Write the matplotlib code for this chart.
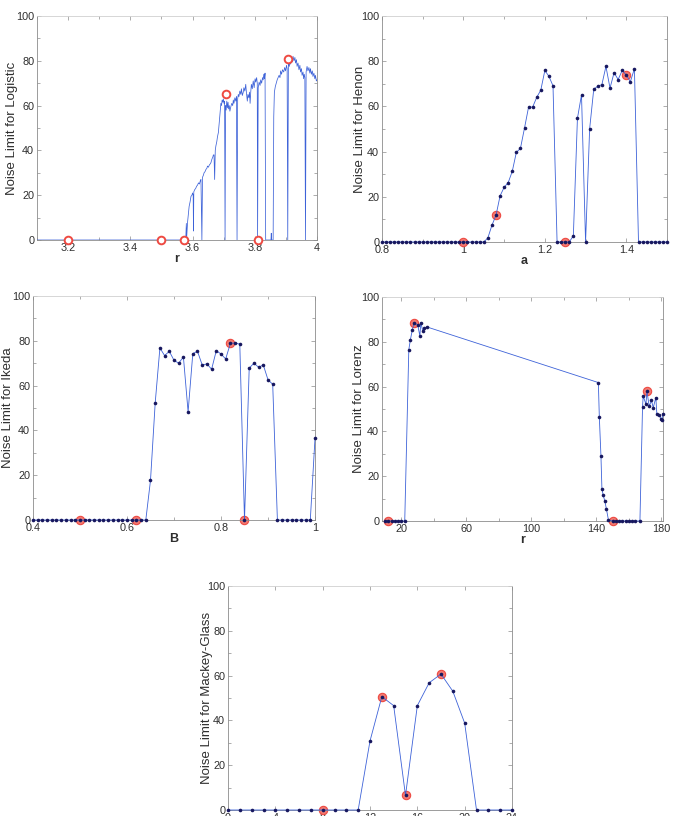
import matplotlib.pyplot as plt
import numpy as np

plt.rcParams["font.family"] = ["Liberation Sans", "DejaVu Sans"]

line_color = "#3d62d8"
dot_color = "#17175f"
red = "#ee4a42"
spine_color = "#8c8c8c"
fig_w, fig_h = 674, 816

# Logistic map: (r, noise limit)
logistic_points = [
    (3.100, 0), (3.578, 0), (3.580, 7.4), (3.581, 1), (3.584, 8), (3.587, 12),
    (3.589, 15), (3.592, 17), (3.595, 19.5), (3.598, 20), (3.600, 21), (3.602, 20),
    (3.603, 4), (3.604, 21.5), (3.607, 22.5), (3.610, 23), (3.613, 24), (3.616, 24.5),
    (3.619, 25.5), (3.622, 25), (3.625, 26.5), (3.627, 27), (3.630, 0), (3.632, 28),
    (3.635, 29), (3.637, 30), (3.640, 30.5), (3.643, 31.5), (3.646, 32), (3.648, 33),
    (3.651, 32.5), (3.654, 33.5), (3.657, 34), (3.659, 34.5), (3.662, 36), (3.665, 37),
    (3.667, 38), (3.669, 38), (3.671, 27), (3.673, 40), (3.675, 42), (3.678, 44),
    (3.680, 46), (3.683, 48), (3.685, 51), (3.688, 56), (3.691, 61), (3.693, 60),
    (3.695, 62.5), (3.697, 61.5), (3.699, 63), (3.701, 61), (3.703, 62), (3.7045, 0),
    (3.706, 60), (3.708, 58), (3.710, 62), (3.712, 59), (3.714, 61.5), (3.716, 58.5),
    (3.718, 60), (3.720, 57.5), (3.723, 59.5), (3.726, 61), (3.729, 60), (3.731, 62.5),
    (3.733, 61), (3.736, 63.5), (3.739, 62), (3.741, 64), (3.743, 0), (3.745, 63),
    (3.747, 65), (3.749, 64), (3.752, 66.5), (3.755, 65), (3.757, 67.5), (3.760, 64.5),
    (3.763, 66), (3.765, 68), (3.768, 66.5), (3.771, 69.5), (3.773, 66), (3.776, 62),
    (3.778, 65), (3.781, 63.5), (3.783, 66), (3.785, 61), (3.787, 66), (3.789, 69.5),
    (3.792, 67.5), (3.795, 71), (3.798, 68), (3.801, 72), (3.803, 70.5), (3.806, 72.5),
    (3.808, 70), (3.809, 0), (3.811, 68), (3.814, 70.5), (3.817, 69), (3.819, 71.5),
    (3.822, 70), (3.825, 72.5), (3.827, 71.5), (3.829, 74), (3.831, 72), (3.833, 74.5),
    (3.835, 0), (3.852, 0), (3.853, 3), (3.854, 0), (3.859, 0), (3.861, 55),
    (3.863, 66), (3.866, 68.5), (3.869, 70), (3.872, 71.5), (3.875, 72.5), (3.878, 73.5),
    (3.881, 72.5), (3.883, 75.5), (3.886, 74), (3.889, 76), (3.893, 75), (3.896, 77),
    (3.899, 75.5), (3.902, 78), (3.904, 76.5), (3.906, 0), (3.908, 79), (3.911, 77.5),
    (3.913, 80), (3.915, 78.5), (3.918, 81), (3.921, 79.5), (3.923, 82), (3.926, 80),
    (3.929, 81.5), (3.931, 79), (3.934, 80.5), (3.936, 77.5), (3.939, 79), (3.942, 76),
    (3.945, 78), (3.947, 75), (3.950, 76.5), (3.952, 73.5), (3.955, 75), (3.957, 72),
    (3.959, 74), (3.961, 72.5), (3.963, 0), (3.965, 75), (3.968, 77.5), (3.971, 75.5),
    (3.974, 77), (3.977, 74.5), (3.979, 76.5), (3.982, 74), (3.985, 75.5), (3.987, 73),
    (3.990, 74.5), (3.993, 72), (3.995, 73.5), (3.998, 71), (4.000, 71.5),
]
logistic_red_r = [3.2, 3.5, 3.571, 3.707, 3.810, 3.906]
logistic_red_v = [0, 0, 0, 65.4, 0, 80.7]

# Henon map, a = 0.80 ... 1.50
henon_a = np.round(np.arange(0.80, 1.505, 0.01), 2)
henon_v = ([0] * 26
           + [1.8, 7.4, 11.8, 20.4, 24.2, 26.3, 31.3, 39.7, 41.4, 50.4, 59.7, 59.7,
              64.0, 67.2, 75.9, 73.3, 69.1]
           + [0] * 4
           + [2.8, 54.7, 65.1, 0, 50.1, 67.5, 69.0, 69.6, 77.7, 68.1, 74.9, 71.9,
              75.9, 73.9, 70.9, 76.7]
           + [0] * 8)
henon_red_a = [1.0, 1.08, 1.25, 1.40]
henon_red_v = [0, 11.8, 0, 73.9]

# Ikeda map, B = 0.40 ... 1.00
ikeda_b = np.round(np.arange(0.40, 1.005, 0.01), 2)
ikeda_v = ([0] * 25
           + [17.7, 52.3, 76.8, 73.4, 75.3, 71.3, 70.0, 72.8, 48.3, 74.3, 75.3, 69.2,
              69.7, 67.3, 75.6, 74.1, 71.9, 78.9, 79.0, 78.5, 0, 67.8, 70.0, 68.2,
              69.2, 62.6, 60.6]
           + [0] * 8
           + [36.4])
ikeda_red_b = [0.50, 0.62, 0.82, 0.85]
ikeda_red_v = [0, 0, 78.9, 0]

# Lorenz system
lorenz_r = [10, 12, 14, 16, 18, 20, 22, 24.5, 25.5, 26.6, 27.8, 30, 31.3, 31.9, 33.1,
            34.1, 35.8, 141.2, 141.8, 142.8, 143.4, 144.2, 145.2, 146.2, 147.4, 150,
            152, 154, 156, 158, 160, 162, 164, 166.8, 168.4, 168.8, 170.5, 171.1,
            172.5, 173.9, 175.0, 176.6, 177.2, 178.7, 179.7, 180.3, 181]
lorenz_v = [0, 0, 0, 0, 0, 0, 0, 76.5, 81, 85.1, 88.6, 87.5, 82.6, 88.6, 84.8,
            86.2, 86.6, 61.8, 46.4, 29.0, 14.2, 11.5, 8.8, 5.2, 0.5, 0,
            0, 0, 0, 0, 0, 0, 0, 0, 50.9, 55.8, 52.1, 57.9,
            51.2, 53.8, 50.6, 55.1, 47.9, 47.2, 45.7, 45.1, 47.9]
lorenz_red_r = [12, 27.8, 150, 171.1]
lorenz_red_v = [0, 88.6, 0, 57.9]

# Mackey-Glass (x tick labels fall outside the picture)
mackey_x = np.arange(25)
mackey_v = [0] * 12 + [30.8, 50.6, 46.6, 6.5, 46.6, 56.8, 60.7, 53.0, 38.8] + [0] * 4
mackey_red_x = [8, 13, 15, 18]
mackey_red_v = [0, 50.6, 6.5, 60.7]


def add_axes_px(left, top, right, bottom):
    return fig.add_axes([left / fig_w, 1 - bottom / fig_h,
                         (right - left) / fig_w, (bottom - top) / fig_h])


def style_axes(ax, xlim, xticks, xminor, xlabel, ylabel, label_off):
    ax.set_xlim(*xlim)
    ax.set_ylim(0, 100)
    ax.set_xticks(xticks, ["%g" % t for t in xticks])
    ax.set_xticks(xminor, minor=True)
    ax.set_yticks(range(0, 101, 20))
    ax.set_yticks(range(10, 100, 20), minor=True)
    ax.tick_params(which="both", direction="in", top=True, right=True,
                   color=spine_color, width=0.5, labelsize=7.8,
                   labelcolor="#2e2e2e", pad=2)
    ax.tick_params(which="major", length=3)
    ax.tick_params(which="minor", length=2.5)
    for side, sp in ax.spines.items():
        sp.set_linewidth(0.6)
        sp.set_color("#d0d0d0" if side == "top" else spine_color)
    ax.set_xlabel(xlabel, fontsize=9, fontweight="bold", color="#2e2e2e", labelpad=0)
    ax.set_ylabel(ylabel, fontsize=9.5, color="#2e2e2e", va="center")
    width_px = ax.get_position().width * fig_w
    ax.yaxis.set_label_coords(-label_off / width_px, 0.5)


def dotted_series(ax, x, y, rx, ry):
    ax.plot(rx, ry, "o", ms=6, mfc="#f27a72", mec=red, mew=0.8, clip_on=False, zorder=2)
    ax.plot(x, y, "-", color=line_color, lw=0.6, zorder=3, clip_on=False)
    ax.plot(x, y, "o", ms=2.6, color=dot_color, mew=0, zorder=4, clip_on=False)


fig = plt.figure(figsize=(fig_w / 100, fig_h / 100), dpi=100)

ax1 = add_axes_px(37, 16, 317, 240)
lr, lv = np.array(logistic_points).T
ax1.plot(lr, lv, "-", color=line_color, lw=0.55, zorder=3)
ax1.plot(logistic_red_r, logistic_red_v, "o", ms=5.5, mfc="white", mec=red, mew=1.4,
         clip_on=False, zorder=4)
style_axes(ax1, (3.1, 4.0), [3.2, 3.4, 3.6, 3.8, 4.0], [3.1, 3.3, 3.5, 3.7, 3.9],
           "r", "Noise Limit for Logistic", 25)

ax2 = add_axes_px(382, 16, 667, 242)
dotted_series(ax2, henon_a, henon_v, henon_red_a, henon_red_v)
style_axes(ax2, (0.8, 1.5), [0.8, 1.0, 1.2, 1.4], [0.9, 1.1, 1.3, 1.5],
           "a", "Noise Limit for Henon", 22)

ax3 = add_axes_px(33, 296, 315, 520)
dotted_series(ax3, ikeda_b, ikeda_v, ikeda_red_b, ikeda_red_v)
style_axes(ax3, (0.4, 1.0), [0.4, 0.6, 0.8, 1.0], [0.5, 0.7, 0.9],
           "B", "Noise Limit for Ikeda", 25)

ax4 = add_axes_px(382, 297, 663, 521)
dotted_series(ax4, lorenz_r, lorenz_v, lorenz_red_r, lorenz_red_v)
style_axes(ax4, (8, 181), [20, 60, 100, 140, 180], [40, 80, 120, 160],
           "r", "Noise Limit for Lorenz", 23.5)

ax5 = add_axes_px(228, 586, 512, 810)
dotted_series(ax5, mackey_x, mackey_v, mackey_red_x, mackey_red_v)
style_axes(ax5, (0, 24), list(range(0, 25, 4)), [], "", "Noise Limit for Mackey-Glass", 21)

fig.savefig("out.png", dpi=100)
